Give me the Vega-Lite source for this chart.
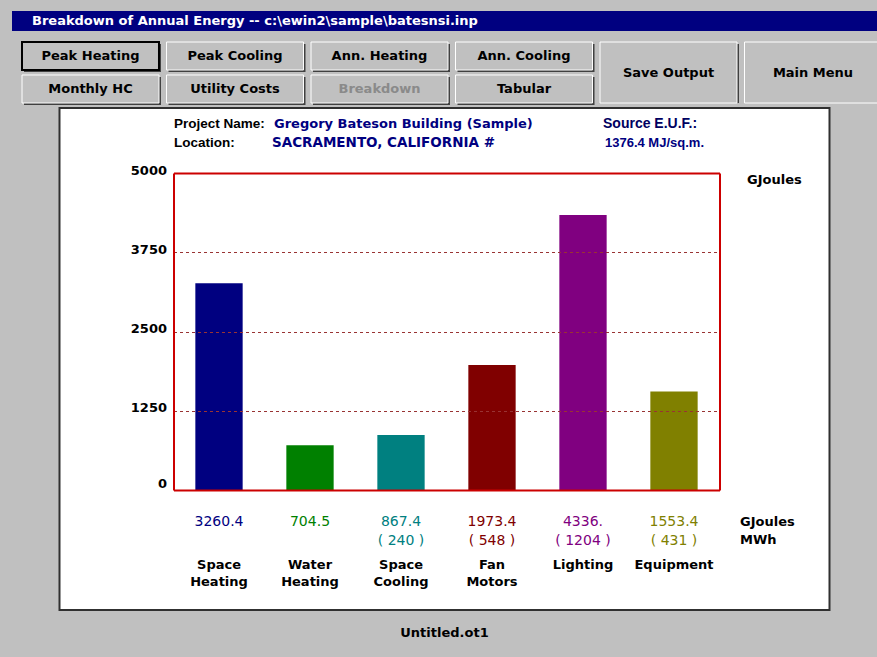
{
  "$schema": "https://vega.github.io/schema/vega-lite/v6.json",
  "background": "#c0c0c0",
  "padding": {"left": 12, "top": 11, "right": 0, "bottom": 30},
  "config": {
    "mark": {"font": "DejaVu Sans"},
    "text": {"font": "DejaVu Sans"},
    "axis": {"labelFont": "DejaVu Sans", "titleFont": "DejaVu Sans"},
    "title": {"font": "DejaVu Sans"}
  },
  "datasets": {
    "buttons": [
      {"upper": "Peak Heating", "lower": "Monthly HC"},
      {"upper": "Peak Cooling", "lower": "Utility Costs"},
      {"upper": "Ann. Heating", "lower": "Breakdown"},
      {"upper": "Ann. Cooling", "lower": "Tabular"},
      {"upper": "Save Output"},
      {"upper": "Main Menu"}
    ],
    "energy": [
      {"category": "Space Heating", "gj": 3260.4},
      {"category": "Water Heating", "gj": 704.5},
      {"category": "Space Cooling", "gj": 867.4, "mwh": 240},
      {"category": "Fan Motors", "gj": 1973.4, "mwh": 548},
      {"category": "Lighting", "gj": 4336, "mwh": 1204},
      {"category": "Equipment", "gj": 1553.4, "mwh": 431}
    ]
  },
  "spacing": 5,
  "center": true,
  "bounds": "flush",
  "vconcat": [
    {
      "width": 865,
      "height": 20,
      "view": {"fill": "#000080", "stroke": null},
      "title": {"text": "Breakdown of Annual Energy -- c:\\ewin2\\sample\\batesnsi.inp", "anchor": "start", "color": "white", "fontSize": 13, "fontWeight": "bold", "offset": -17, "dx": 20},
      "data": {"values": []},
      "mark": {"type": "text"},
      "encoding": {}
    },
    {
      "width": 865,
      "height": 67,
      "view": {"stroke": null},
      "data": {"name": "buttons"},
      "encoding": {
        "x": {"field": "upper", "type": "nominal", "sort": null, "axis": null,
              "scale": {"domain": ["Peak Heating", "Peak Cooling", "Ann. Heating", "Ann. Cooling", "Save Output", "Main Menu"], "range": [10, 869.5], "paddingInner": 0.052, "paddingOuter": 0}}
      },
      "layer": [
        {
          "transform": [{"filter": "isValid(datum.lower)"}],
          "mark": {"type": "rect", "fill": "#404040", "xOffset": 2, "x2Offset": 2, "yOffset": 2, "y2Offset": 2},
          "encoding": {"y": {"datum": "upper", "type": "nominal", "axis": null, "scale": {"domain": ["upper", "lower"], "range": [6, 67], "paddingInner": 0.15, "paddingOuter": 0}}}
        },
        {
          "transform": [{"filter": "isValid(datum.lower)"}],
          "mark": {"type": "rect", "fill": "#c0c0c0"},
          "encoding": {
            "y": {"datum": "upper", "type": "nominal", "axis": null},
            "stroke": {"condition": {"test": "datum.upper === 'Peak Heating'", "value": "black"}, "value": "white"},
            "strokeWidth": {"condition": {"test": "datum.upper === 'Peak Heating'", "value": 2}, "value": 1}
          }
        },
        {
          "transform": [{"filter": "isValid(datum.lower)"}],
          "mark": {"type": "rect", "fill": "#404040", "xOffset": 2, "x2Offset": 2, "yOffset": 2, "y2Offset": 2},
          "encoding": {"y": {"datum": "lower", "type": "nominal", "axis": null}}
        },
        {
          "transform": [{"filter": "isValid(datum.lower)"}],
          "mark": {"type": "rect", "fill": "#c0c0c0", "stroke": "white", "strokeWidth": 1},
          "encoding": {"y": {"datum": "lower", "type": "nominal", "axis": null}}
        },
        {
          "transform": [{"filter": "!isValid(datum.lower)"}],
          "mark": {"type": "rect", "fill": "#404040", "xOffset": 2, "x2Offset": 2, "yOffset": 8, "y2Offset": 2}
        },
        {
          "transform": [{"filter": "!isValid(datum.lower)"}],
          "mark": {"type": "rect", "fill": "#c0c0c0", "stroke": "white", "strokeWidth": 1, "yOffset": 6}
        },
        {
          "transform": [{"filter": "isValid(datum.lower)"}],
          "mark": {"type": "text", "fontSize": 13, "fontWeight": "bold", "color": "black"},
          "encoding": {"y": {"datum": "upper", "type": "nominal", "axis": null}, "text": {"field": "upper"}}
        },
        {
          "transform": [{"filter": "isValid(datum.lower)"}],
          "mark": {"type": "text", "fontSize": 13, "fontWeight": "bold"},
          "encoding": {
            "y": {"datum": "lower", "type": "nominal", "axis": null},
            "text": {"field": "lower"},
            "color": {"condition": {"test": "datum.lower === 'Breakdown'", "value": "#8a8a8a"}, "value": "black"}
          }
        },
        {
          "transform": [{"filter": "!isValid(datum.lower)"}],
          "mark": {"type": "text", "fontSize": 13, "fontWeight": "bold", "color": "black", "dy": 3},
          "encoding": {"text": {"field": "upper"}}
        }
      ]
    },
    {
      "width": 770,
      "height": 502,
      "view": {"fill": "white", "stroke": "#303030", "strokeWidth": 2},
      "title": {"text": "Untitled.ot1", "orient": "bottom", "anchor": "middle", "offset": 17, "fontSize": 13, "fontWeight": "bold", "color": "black"},
      "data": {"name": "energy"},
      "resolve": {"axis": {"x": "independent", "y": "independent"}},
      "layer": [
        {
          "mark": {"type": "bar"},
          "encoding": {
            "x": {"field": "category", "type": "nominal", "sort": null,
                  "scale": {"domain": ["Space Heating", "Water Heating", "Space Cooling", "Fan Motors", "Lighting", "Equipment"], "range": [114, 660], "paddingInner": 0.48, "paddingOuter": 0.24},
                  "axis": {"orient": "bottom", "offset": -120, "title": null, "ticks": false, "domainColor": "#cc0000", "domainWidth": 2, "labelExpr": "split(datum.label, ' ')", "labelAngle": 0, "labelPadding": 68, "labelBaseline": "top", "labelLineHeight": 17, "labelFontSize": 13, "labelFontWeight": "bold", "labelColor": "black", "labelOverlap": false, "labelBound": false, "labelFlush": false, "grid": false, "zindex": 1}},
            "y": {"field": "gj", "type": "quantitative",
                  "scale": {"domain": [0, 5000], "range": [382, 65], "nice": false, "zero": true},
                  "axis": {"orient": "left", "offset": -114, "title": null, "values": [0, 1250, 2500, 3750, 5000], "format": "d", "ticks": false, "domainColor": "#cc0000", "domainWidth": 2, "labelPadding": 7, "labelFontSize": 13, "labelFontWeight": "bold", "labelColor": "black", "labelOffset": {"condition": {"test": "datum.value === 0", "value": -7}, "value": -3}, "labelOverlap": false, "labelFlush": false, "labelBound": false, "grid": true, "gridColor": "#993333", "gridDash": [3, 3], "gridWidth": 1, "zindex": 1}},
            "color": {"field": "category", "type": "nominal", "legend": null,
                      "scale": {"domain": ["Space Heating", "Water Heating", "Space Cooling", "Fan Motors", "Lighting", "Equipment"], "range": ["#000080", "#008000", "#008080", "#800000", "#800080", "#808000"]}}
          }
        },
        {
          "transform": [{"calculate": "datum.gj === floor(datum.gj) ? datum.gj + '.' : format(datum.gj, '.1f')", "as": "gjText"}],
          "mark": {"type": "text", "dy": 32, "fontSize": 14, "baseline": "middle"},
          "encoding": {
            "x": {"field": "category", "type": "nominal", "sort": null,
                  "axis": {"orient": "top", "offset": -65, "title": null, "labels": false, "ticks": false, "domainColor": "#cc0000", "domainWidth": 2, "grid": false, "zindex": 1}},
            "y": {"datum": 0, "type": "quantitative",
                  "axis": {"orient": "right", "offset": -110, "title": null, "values": [5000], "labelExpr": "'GJoules'", "ticks": false, "domainColor": "#cc0000", "domainWidth": 2, "grid": false, "labelPadding": 27, "labelAlign": "left", "labelBaseline": "top", "labelFontSize": 13, "labelFontWeight": "bold", "labelColor": "black", "labelFlush": false, "labelOverlap": false, "labelBound": false, "zindex": 1}},
            "text": {"field": "gjText"},
            "color": {"field": "category", "type": "nominal", "legend": null}
          }
        },
        {
          "transform": [{"filter": "isValid(datum.mwh)"}, {"calculate": "'( ' + datum.mwh + ' )'", "as": "mwhText"}],
          "mark": {"type": "text", "dy": 51, "fontSize": 14, "baseline": "middle"},
          "encoding": {
            "x": {"field": "category", "type": "nominal", "sort": null, "axis": null},
            "y": {"datum": 0, "type": "quantitative", "axis": null},
            "text": {"field": "mwhText"},
            "color": {"field": "category", "type": "nominal", "legend": null}
          }
        },
        {
          "data": {"values": [{"t": "GJoules"}]},
          "mark": {"type": "text", "dx": 66, "dy": 32, "align": "left", "baseline": "middle", "fontSize": 13, "fontWeight": "bold", "color": "black"},
          "encoding": {"x": {"datum": "Equipment", "type": "nominal", "axis": null}, "y": {"datum": 0, "type": "quantitative", "axis": null}, "text": {"field": "t"}}
        },
        {
          "data": {"values": [{"t": "MWh"}]},
          "mark": {"type": "text", "dx": 66, "dy": 50, "align": "left", "baseline": "middle", "fontSize": 13, "fontWeight": "bold", "color": "black"},
          "encoding": {"x": {"datum": "Equipment", "type": "nominal", "axis": null}, "y": {"datum": 0, "type": "quantitative", "axis": null}, "text": {"field": "t"}}
        },
        {
          "data": {"values": [{"t": "Project Name:"}]},
          "mark": {"type": "text", "dx": -45, "dy": -49, "align": "left", "baseline": "middle", "font": "Liberation Sans", "fontSize": 13.5, "fontWeight": "bold", "color": "black"},
          "encoding": {"x": {"datum": "Space Heating", "type": "nominal", "axis": null}, "y": {"datum": 5000, "type": "quantitative", "axis": null}, "text": {"field": "t"}}
        },
        {
          "data": {"values": [{"t": "Gregory Bateson Building (Sample)"}]},
          "mark": {"type": "text", "dx": 55, "dy": -49, "align": "left", "baseline": "middle", "fontSize": 13, "fontWeight": "bold", "color": "#000080"},
          "encoding": {"x": {"datum": "Space Heating", "type": "nominal", "axis": null}, "y": {"datum": 5000, "type": "quantitative", "axis": null}, "text": {"field": "t"}}
        },
        {
          "data": {"values": [{"t": "Source E.U.F.:"}]},
          "mark": {"type": "text", "dx": 20, "dy": -49, "align": "left", "baseline": "middle", "font": "Liberation Sans", "fontSize": 14, "fontWeight": "bold", "color": "#000060"},
          "encoding": {"x": {"datum": "Lighting", "type": "nominal", "axis": null}, "y": {"datum": 5000, "type": "quantitative", "axis": null}, "text": {"field": "t"}}
        },
        {
          "data": {"values": [{"t": "Location:"}]},
          "mark": {"type": "text", "dx": -45, "dy": -30, "align": "left", "baseline": "middle", "font": "Liberation Sans", "fontSize": 13.5, "fontWeight": "bold", "color": "black"},
          "encoding": {"x": {"datum": "Space Heating", "type": "nominal", "axis": null}, "y": {"datum": 5000, "type": "quantitative", "axis": null}, "text": {"field": "t"}}
        },
        {
          "data": {"values": [{"t": "SACRAMENTO, CALIFORNIA #"}]},
          "mark": {"type": "text", "dx": 53, "dy": -30, "align": "left", "baseline": "middle", "fontSize": 13.5, "fontWeight": "bold", "color": "#000080"},
          "encoding": {"x": {"datum": "Space Heating", "type": "nominal", "axis": null}, "y": {"datum": 5000, "type": "quantitative", "axis": null}, "text": {"field": "t"}}
        },
        {
          "data": {"values": [{"t": "1376.4 MJ/sq.m."}]},
          "mark": {"type": "text", "dx": 22, "dy": -30, "align": "left", "baseline": "middle", "font": "Liberation Sans", "fontSize": 13, "fontWeight": "bold", "color": "#000080"},
          "encoding": {"x": {"datum": "Lighting", "type": "nominal", "axis": null}, "y": {"datum": 5000, "type": "quantitative", "axis": null}, "text": {"field": "t"}}
        }
      ]
    }
  ]
}
